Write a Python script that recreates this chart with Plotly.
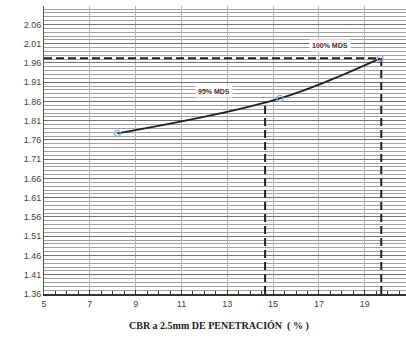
import plotly.graph_objects as go

# Data
cbr = [8.2, 15.3, 19.67]
density = [1.777, 1.868, 1.972]

mds100_x = [5, 19.67]
mds100_y = [1.972, 1.972]
v100_x = [19.72, 19.72]
v100_y = [1.36, 1.972]
v95_x = [14.65, 14.65]
v95_y = [1.36, 1.858]

label_texts = ["100% MDS", "95% MDS"]
label_x = [17.5, 12.4]
label_y = [2.006, 1.886]

x_title = "CBR a 2.5mm DE PENETRACIÓN  ( % )"

fig = go.Figure()

dash = dict(color="#222222", width=2, dash="8px,4px")
fig.add_trace(go.Scatter(x=mds100_x, y=mds100_y, mode="lines", line=dash, hoverinfo="skip"))
fig.add_trace(go.Scatter(x=v100_x, y=v100_y, mode="lines", line=dash, hoverinfo="skip"))
fig.add_trace(go.Scatter(x=v95_x, y=v95_y, mode="lines", line=dash, hoverinfo="skip"))

fig.add_trace(go.Scatter(
    x=cbr, y=density, mode="lines+markers",
    line=dict(color="#222222", width=1.7, shape="spline", smoothing=1.0),
    marker=dict(symbol="circle-open", size=6, color="#7fb2d9", line=dict(width=1.2)),
))

for t, xx, yy in zip(label_texts, label_x, label_y):
    fig.add_annotation(x=xx, y=yy, text="<b>" + t + "</b>", showarrow=False,
                       font=dict(family="Liberation Sans, Arial", size=7, color="#333333"),
                       bgcolor="white", borderpad=2)

fig.add_annotation(xref="paper", yref="paper", x=0.483, y=0, yshift=-32,
                   xanchor="center", yanchor="middle", showarrow=False,
                   text="<b>" + x_title + "</b>",
                   font=dict(family="Liberation Serif, Times New Roman", size=10, color="#222222"))

fig.update_layout(
    width=406, height=347,
    margin=dict(l=44, r=0, t=6, b=53),
    paper_bgcolor="white", plot_bgcolor="white",
    showlegend=False,
    xaxis=dict(range=[5, 20.8], tick0=5, dtick=2, showgrid=True, automargin=False,
               gridcolor="#b8b8b8", gridwidth=1,
               showline=True, linecolor="#333333", linewidth=1.5,
               ticks="inside", ticklen=4, tickcolor="#333333",
               minor=dict(dtick=0.5, ticks="inside", ticklen=3, tickcolor="#333333", showgrid=False),
               tickfont=dict(family="Liberation Sans, Arial", size=9, color="#444444"),
               zeroline=False),
    yaxis=dict(range=[1.36, 2.108], tick0=1.36, dtick=0.05, tickformat=".2f", automargin=False,
               showgrid=True, gridcolor="#707070", gridwidth=1,
               showline=True, linecolor="#555555", linewidth=1,
               ticks="",
               minor=dict(dtick=0.01, showgrid=True, gridcolor="#a0a0a0", gridwidth=1),
               tickfont=dict(family="Liberation Sans, Arial", size=9, color="#444444"),
               zeroline=False),
)

fig.write_html("out.html", config={"displayModeBar": False},
               post_script="document.body.style.margin='0';document.body.style.overflow='hidden';")
